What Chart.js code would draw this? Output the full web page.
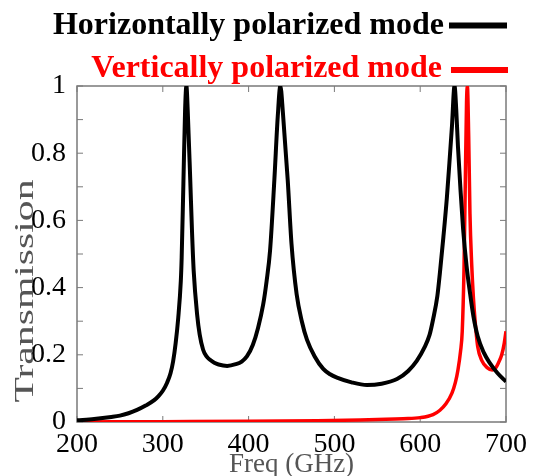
<!DOCTYPE html>
<html>
<head>
<meta charset="utf-8">
<script src="https://cdn.jsdelivr.net/npm/chart.js@4.4.1/dist/chart.umd.min.js"></script>
<style>
html, body { margin: 0; padding: 0; background: #fff; }
#wrap { width: 533px; height: 476px; position: relative; }
</style>
</head>
<body>
<div id="wrap"><canvas id="chart"></canvas></div>
<script>
/* global Chart */

// horizontally polarized mode (black)
const FREQ_H = [200, 220, 240, 250, 260, 270, 280, 290, 295, 300, 305, 309, 312, 315, 318, 321, 322, 324, 326, 327.5,
    329, 332, 334, 336, 340, 343, 347, 351, 355, 360, 365, 375, 385, 392, 398, 405, 411, 417, 421, 425,
    430, 434, 437, 440, 445.6, 450, 456, 462, 468, 477, 487, 495, 503, 520, 538, 555, 573, 586, 596, 605,
    611, 615, 620, 623, 627, 631, 634, 637, 640, 642, 644, 647, 650, 654, 658, 662, 667, 674, 681, 690, 700];
const TRANS_H = [0.005, 0.009, 0.015, 0.019, 0.026, 0.036, 0.049, 0.065, 0.077, 0.093, 0.117, 0.145, 0.18, 0.235, 0.31, 0.42, 0.49, 0.71, 0.93, 1.0,
    0.93, 0.72, 0.57, 0.45, 0.32, 0.26, 0.215, 0.195, 0.185, 0.176, 0.171, 0.167, 0.172, 0.18, 0.195, 0.23, 0.28, 0.35, 0.42, 0.51,
    0.72, 0.91, 1.0, 0.92, 0.72, 0.53, 0.38, 0.3, 0.245, 0.195, 0.158, 0.142, 0.132, 0.118, 0.11, 0.114, 0.128, 0.152, 0.182, 0.222,
    0.26, 0.305, 0.375, 0.445, 0.55, 0.665, 0.77, 0.88, 1.0, 0.93, 0.82, 0.69, 0.575, 0.465, 0.385, 0.315, 0.255, 0.207, 0.176, 0.146, 0.12];

// vertically polarized mode (red)
const FREQ_V = [205, 300, 400, 480, 530, 560, 580, 600, 615, 623, 630, 637, 641, 644, 647, 649, 651, 652.5, 654, 655,
    656.5, 658, 660, 662, 664, 667, 672, 678, 684, 688, 691, 695, 698, 700];
const TRANS_V = [0.0, 0.001, 0.002, 0.004, 0.006, 0.008, 0.01, 0.013, 0.022, 0.035, 0.054, 0.086, 0.118, 0.155, 0.21, 0.27, 0.45, 0.7, 0.95, 1.0,
    0.85, 0.62, 0.47, 0.37, 0.3, 0.225, 0.182, 0.162, 0.155, 0.161, 0.175, 0.2, 0.235, 0.27];

const X_MIN = 200, X_MAX = 700, X_STEP = 100;
const Y_MIN = 0, Y_MAX = 1, Y_STEP = 0.1;

const LABEL_H = "Horizontally polarized mode",
    LABEL_V = "Vertically polarized mode",
    LABEL_X = "Freq (GHz)",
    LABEL_Y = "Transmission";

const COLOR_H = "#000000",
    COLOR_V = "#ff0000",
    AXIS_COLOR = "#7a7a7a",
    TITLE_COLOR = "#555555",
    SERIF = "'Liberation Serif', 'Times New Roman', serif",
    TICK_LEN = 6;

function toPoints(xs, ys) {
    let pts = [];
    for (let i = 0; i < xs.length; i++) {
        pts.push({ x: xs[i], y: ys[i] });
    }
    return pts;
}

// legend lines (text right-aligned, sample line on the right)
const LEGEND_ROWS = [
    { textRight: 444, baseline: 34, lineY: 25.5, x0: 449, x1: 507 },
    { textRight: 442, baseline: 76.5, lineY: 70, x0: 451, x1: 508 },
];

const framePlugin = {
    id: "frame",
    beforeDatasetsDraw(chart) {
        const { ctx, chartArea: a, scales: { x, y } } = chart;
        ctx.save();
        ctx.strokeStyle = AXIS_COLOR;
        ctx.lineWidth = 1.5;
        ctx.strokeRect(a.left, a.top, a.width, a.height);
        ctx.lineWidth = 1;
        ctx.beginPath();
        y.ticks.forEach(t => {
            const p = y.getPixelForValue(t.value);
            ctx.moveTo(a.left, p); ctx.lineTo(a.left + TICK_LEN, p);
            ctx.moveTo(a.right, p); ctx.lineTo(a.right - TICK_LEN, p);
        });
        x.ticks.forEach(t => {
            const p = x.getPixelForValue(t.value);
            ctx.moveTo(p, a.bottom); ctx.lineTo(p, a.bottom - TICK_LEN);
            ctx.moveTo(p, a.top); ctx.lineTo(p, a.top + TICK_LEN);
        });
        ctx.stroke();
        ctx.restore();
    },
    afterDraw(chart) {
        const ctx = chart.ctx;
        ctx.save();
        // legend
        chart.data.datasets.forEach((ds, i) => {
            const row = LEGEND_ROWS[i];
            ctx.font = "bold 32px " + SERIF;
            ctx.fillStyle = ds.borderColor;
            ctx.textAlign = "right";
            ctx.textBaseline = "alphabetic";
            ctx.fillText(ds.label, row.textRight, row.baseline);
            ctx.strokeStyle = ds.borderColor;
            ctx.lineWidth = 6;
            ctx.beginPath();
            ctx.moveTo(row.x0, row.lineY);
            ctx.lineTo(row.x1, row.lineY);
            ctx.stroke();
        });
        // y axis title, stretched along its baseline like the original
        ctx.font = "27px " + SERIF;
        ctx.fillStyle = TITLE_COLOR;
        ctx.textAlign = "center";
        ctx.textBaseline = "middle";
        const w = ctx.measureText(LABEL_Y).width;
        ctx.translate(26, 291);
        ctx.rotate(-Math.PI / 2);
        ctx.scale(223 / w, 1);
        ctx.fillText(LABEL_Y, 0, 0);
        ctx.restore();
    },
};

new Chart(document.getElementById("chart"), {
    type: "line",
    data: {
        datasets: [
            {
                label: LABEL_H,
                data: toPoints(FREQ_H, TRANS_H),
                borderColor: COLOR_H,
                borderWidth: 4,
                pointRadius: 0,
                cubicInterpolationMode: "monotone",
            },
            {
                label: LABEL_V,
                data: toPoints(FREQ_V, TRANS_V),
                borderColor: COLOR_V,
                borderWidth: 3.5,
                pointRadius: 0,
                cubicInterpolationMode: "monotone",
            },
        ],
    },
    options: {
        responsive: true,
        maintainAspectRatio: false,
        animation: false,
        layout: { padding: { top: 86, right: 27, left: 0, bottom: 0 } },
        plugins: {
            legend: { display: false },
            tooltip: { enabled: false },
        },
        scales: {
            x: {
                type: "linear",
                min: X_MIN,
                max: X_MAX,
                afterFit: scale => { scale.height = 54; },
                ticks: {
                    stepSize: X_STEP,
                    autoSkip: false,
                    maxRotation: 0,
                    padding: -2,
                    color: "#000",
                    font: { family: SERIF, size: 28 },
                },
                grid: { display: false },
                border: { display: false },
                title: {
                    display: true,
                    text: LABEL_X,
                    color: TITLE_COLOR,
                    font: { family: SERIF, size: 27 },
                    padding: { top: 0, bottom: -5 },
                },
            },
            y: {
                min: Y_MIN,
                max: Y_MAX,
                afterFit: scale => { scale.width = 77; },
                ticks: {
                    stepSize: Y_STEP,
                    autoSkip: false,
                    padding: 3,
                    color: "#000",
                    font: { family: SERIF, size: 28 },
                    callback: v => (Math.round(v * 10) % 2 === 0 ? String(Math.round(v * 10) / 10) : ""),
                },
                grid: { display: false },
                border: { display: false },
            },
        },
    },
    plugins: [framePlugin],
});
</script>
</body>
</html>
